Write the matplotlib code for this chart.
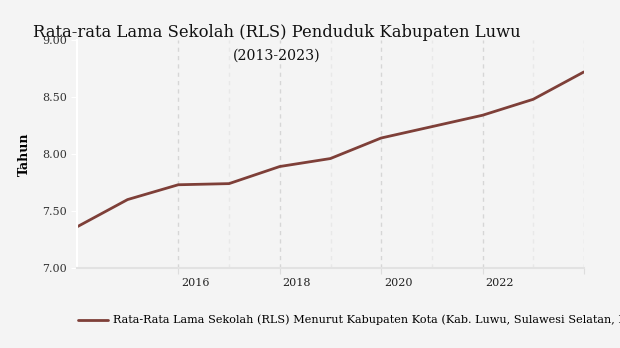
import datetime as dt
import matplotlib.pyplot as plt
import matplotlib.dates as mdates
import matplotlib.ticker as mticker
import matplotlib.transforms as mtrans

years = [2013, 2014, 2015, 2016, 2017, 2018, 2019, 2020, 2021, 2022, 2023]
rls = [7.36, 7.60, 7.73, 7.74, 7.89, 7.96, 8.14, 8.24, 8.34, 8.48, 8.72]
tick_years = [2016, 2018, 2020, 2022, 2024]
series_name = ("Rata-Rata Lama Sekolah (RLS) Menurut Kabupaten Kota "
               "(Kab. Luwu, Sulawesi Selatan, Indonesia)")

# values are end-of-year figures
dates = [dt.datetime(y, 12, 31) for y in years]

bg = '#f4f4f4'
plt.rcParams['font.family'] = 'DejaVu Serif'

fig = plt.figure(figsize=(6.2, 3.48), dpi=100, facecolor=bg)
ax = fig.add_axes([0.124, 0.230, 0.818, 0.655], facecolor=bg)

line, = ax.plot(dates, rls, color='#7e3f38', lw=2.0, solid_capstyle='round')

ax.set_ylim(7.0, 9.0)
ax.set_yticks([7.0, 7.5, 8.0, 8.5, 9.0])
ax.set_yticklabels(['%.2f' % v for v in [7.0, 7.5, 8.0, 8.5, 9.0]])
ax.set_xlim(dates[0], dt.datetime(2024, 1, 1))

major = [mdates.date2num(dt.datetime(y, 1, 1)) for y in tick_years]
minor = [mdates.date2num(dt.datetime(y + 1, 1, 1)) for y in tick_years[:-1]]
ax.xaxis.set_major_locator(mticker.FixedLocator(major))
ax.xaxis.set_minor_locator(mticker.FixedLocator(minor))
ax.xaxis.set_major_formatter(mticker.FixedFormatter(
    [str(y) for y in tick_years[:-1]] + ['']))

ax.tick_params(axis='x', which='major', length=4, color='#dddddd', labelsize=8,
               labelcolor='#222222', pad=3)
ax.tick_params(axis='x', which='minor', length=0)
ax.tick_params(axis='y', length=4, color='white', labelsize=8,
               labelcolor='#333333', pad=3)

ax.grid(axis='x', which='major', color='#d6d6d6', ls=(0, (3, 3)), lw=1)
ax.grid(axis='x', which='minor', color='#e8e8e8', ls=(0, (3, 3)), lw=1)
ax.grid(axis='y', visible=False)

for s in ['top', 'right']:
    ax.spines[s].set_visible(False)
ax.spines['left'].set_color('white')
ax.spines['left'].set_linewidth(1.5)
ax.spines['bottom'].set_color('#e2e2e2')
ax.spines['bottom'].set_linewidth(1.5)

ax.set_ylabel('Tahun', fontsize=9, fontweight='bold', labelpad=8)

fig.text(0.447, 0.894, 'Rata-rata Lama Sekolah (RLS) Penduduk Kabupaten Luwu',
         ha='center', fontsize=11.8, color='#111111')
fig.text(0.447, 0.828, '(2013-2023)', ha='center', fontsize=10.2, color='#111111')

fig.legend([line], [series_name], loc='center left',
           bbox_to_anchor=(0.11, 0.08), frameon=False, fontsize=8.1,
           handlelength=2.6, handletextpad=0.5)

# year labels sit just right of their ticks
offset = mtrans.ScaledTranslation(2 / 72, 0, fig.dpi_scale_trans)
for lbl in ax.get_xticklabels():
    lbl.set_ha('left')
    lbl.set_transform(lbl.get_transform() + offset)

fig.savefig('out.png', dpi=100, facecolor=bg)
